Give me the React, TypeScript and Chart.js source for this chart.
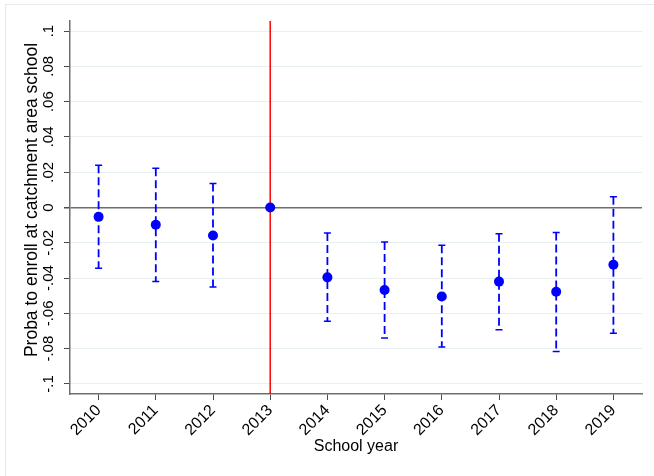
import React, { useEffect, useRef } from "react";
import { Chart, registerables } from "chart.js";

Chart.register(...registerables);

const years = [2010, 2011, 2012, 2013, 2014, 2015, 2016, 2017, 2018, 2019];
const estimates = [-0.0053, -0.0098, -0.0159, 0, -0.0396, -0.0468, -0.0504, -0.042, -0.0477, -0.0324];
const upperCI = [0.024, 0.0222, 0.0136, 0, -0.0144, -0.0195, -0.0214, -0.0149, -0.0142, 0.0061];
const lowerCI = [-0.0345, -0.0419, -0.045, 0, -0.0644, -0.074, -0.0791, -0.0693, -0.0816, -0.0712];
const yTickValues = [-0.1, -0.08, -0.06, -0.04, -0.02, 0, 0.02, 0.04, 0.06, 0.08, 0.1];
const yTickLabels = ["-.1", "-.08", "-.06", "-.04", "-.02", "0", ".02", ".04", ".06", ".08", ".1"];
const eventYear = 2013;
const xTitle = "School year";
const yTitle = "Proba to enroll at catchment area school";

const FONT = "'Liberation Sans', Arial, Helvetica, sans-serif";
const BLUE = "#0000ff";

const customPlugin = {
  id: "custom",
  beforeDraw(chart: any) {
    const ctx = chart.ctx;
    ctx.save();
    ctx.strokeStyle = "#e3ebee";
    ctx.lineWidth = 1;
    ctx.strokeRect(5.5, 4.5, 700, 600);
    ctx.restore();
  },
  beforeDatasetsDraw(chart: any) {
    const ctx = chart.ctx;
    const xs = chart.scales.x;
    const ys = chart.scales.y;
    const area = chart.chartArea;
    ctx.save();
    const ex = xs.getPixelForValue(eventYear);
    ctx.strokeStyle = "#ff0000";
    ctx.lineWidth = 1.5;
    ctx.beginPath();
    ctx.moveTo(ex, area.top);
    ctx.lineTo(ex, area.bottom);
    ctx.stroke();
    ctx.strokeStyle = BLUE;
    for (let i = 0; i < years.length; i++) {
      if (upperCI[i] === lowerCI[i]) continue;
      const px = xs.getPixelForValue(years[i]);
      const pu = ys.getPixelForValue(upperCI[i]);
      const pl = ys.getPixelForValue(lowerCI[i]);
      ctx.lineWidth = 1.8;
      ctx.setLineDash([8, 4]);
      ctx.beginPath();
      ctx.moveTo(px, pu);
      ctx.lineTo(px, pl);
      ctx.stroke();
      ctx.setLineDash([]);
      ctx.lineWidth = 1.5;
      ctx.beginPath();
      ctx.moveTo(px - 3.5, pu);
      ctx.lineTo(px + 3.5, pu);
      ctx.moveTo(px - 3.5, pl);
      ctx.lineTo(px + 3.5, pl);
      ctx.stroke();
    }
    ctx.restore();
  },
  afterDraw(chart: any) {
    const ctx = chart.ctx;
    const ys = chart.scales.y;
    ctx.save();
    ctx.fillStyle = "#000";
    ctx.textAlign = "center";
    ctx.textBaseline = "middle";
    ctx.font = `15px ${FONT}`;
    for (let i = 0; i < yTickValues.length; i++) {
      const py = ys.getPixelForValue(yTickValues[i]);
      ctx.save();
      ctx.translate(49, py);
      ctx.rotate(-Math.PI / 2);
      ctx.fillText(yTickLabels[i], 0, 0);
      ctx.restore();
    }
    ctx.font = `17.5px ${FONT}`;
    ctx.save();
    ctx.translate(32, 200);
    ctx.rotate(-Math.PI / 2);
    ctx.fillText(yTitle, 0, 0);
    ctx.restore();
    ctx.restore();
  },
};

export default function App() {
  const ref = useRef<HTMLCanvasElement>(null);
  useEffect(() => {
    if (!ref.current) return;
    const chart = new Chart(ref.current, {
      type: "scatter",
      data: {
        datasets: [
          {
            data: years.map((y, i) => ({ x: y, y: estimates[i] })),
            backgroundColor: BLUE,
            borderColor: BLUE,
            borderWidth: 0,
            pointRadius: 5,
          },
        ],
      },
      options: {
        animation: false,
        responsive: false,
        layout: { padding: { left: 0, right: 12, top: 21, bottom: 0 } },
        plugins: { legend: { display: false }, tooltip: { enabled: false } },
        scales: {
          x: {
            type: "linear",
            min: 2009.5,
            max: 2019.5,
            afterBuildTicks: (s: any) => {
              s.ticks = years.map((v) => ({ value: v }));
            },
            afterFit: (s: any) => {
              s.height = 82;
            },
            border: { display: true, color: "#6e6e6e", width: 1.5 },
            grid: {
              drawOnChartArea: false,
              drawTicks: true,
              tickLength: 6,
              tickColor: "#4a4a4a",
              tickWidth: 1,
            },
            ticks: {
              autoSkip: false,
              minRotation: 45,
              maxRotation: 45,
              padding: 1,
              color: "#000",
              font: { family: FONT, size: 16 },
              callback: (v: any) => String(v),
            },
            title: {
              display: true,
              text: xTitle,
              color: "#000",
              font: { family: FONT, size: 16 },
              padding: { top: 0, bottom: 20 },
            },
          },
          y: {
            type: "linear",
            min: -0.1057,
            max: 0.1057,
            afterBuildTicks: (s: any) => {
              s.ticks = yTickValues.map((v) => ({ value: v }));
            },
            afterFit: (s: any) => {
              s.width = 70;
            },
            border: { display: true, color: "#6e6e6e", width: 1.5 },
            grid: {
              drawOnChartArea: true,
              drawTicks: true,
              tickLength: 6,
              tickColor: "#4a4a4a",
              color: (c: any) => (c.tick && Math.abs(c.tick.value) < 1e-9 ? "#6e6e6e" : "#e8eff1"),
              lineWidth: (c: any) => (c.tick && Math.abs(c.tick.value) < 1e-9 ? 1.5 : 1),
            },
            ticks: { display: false },
          },
        },
      },
      plugins: [customPlugin],
    } as any);
    return () => chart.destroy();
  }, []);
  return (
    <div style={{ position: "fixed", left: 0, top: 0, width: 654, height: 476, background: "#fff" }}>
      <canvas ref={ref} width={654} height={476} style={{ width: 654, height: 476, display: "block" }} />
    </div>
  );
}
